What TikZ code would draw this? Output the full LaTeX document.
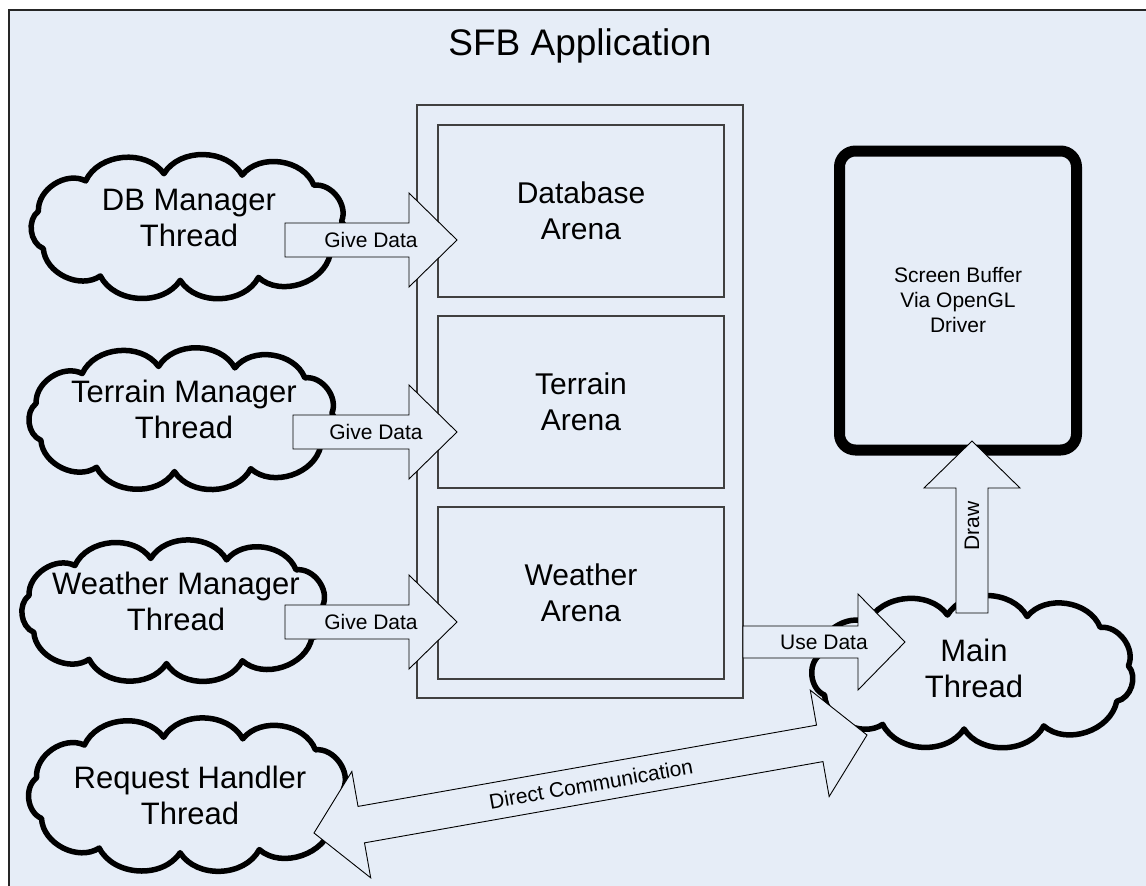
\documentclass[tikz,border=0pt]{standalone}
\usepackage{fontspec}
\setmainfont{Liberation Sans}
\usetikzlibrary{calc}
\definecolor{bg}{RGB}{230,237,247}
\tikzset{
 cloudline/.style={draw=black, line width=5.5pt, fill=bg, line join=round},
 bigtext/.style={font=\fontsize{31}{36}\selectfont, align=center, inner sep=0pt},
 arenatext/.style={font=\fontsize{30}{36}\selectfont, align=center},
 titletext/.style={font=\fontsize{37}{42}\selectfont, inner sep=0pt},
 smalltext/.style={font=\fontsize{21}{25}\selectfont, align=center, inner sep=0pt},
 arenabox/.style={draw=black!75, line width=1.3pt, fill=bg, inner sep=0pt},
 barrow/.style={draw=black, line width=0.9pt, fill=bg, line join=miter},
 screenbox/.style={draw=black, line width=11pt, rounded corners=16pt, fill=bg, inner sep=0pt},
}
\newcommand{\sarrow}[6]{%
 \coordinate (#6h) at ($(#2)!#5!(#1)$);
 \draw[barrow] ($(#1)!#3!90:(#2)$) -- ($(#6h)!#3!-90:(#1)$) -- ($(#6h)!#4!-90:(#1)$) -- (#2) -- ($(#6h)!#4!90:(#1)$) -- ($(#6h)!#3!90:(#1)$) -- ($(#1)!#3!-90:(#2)$) -- cycle;
}
\newcommand{\darrow}[6]{%
 \coordinate (#6a) at ($(#1)!#5!(#2)$);
 \coordinate (#6b) at ($(#2)!#5!(#1)$);
 \draw[barrow] (#1) -- ($(#6a)!#4!90:(#2)$) -- ($(#6a)!#3!90:(#2)$) -- ($(#6b)!#3!-90:(#1)$) -- ($(#6b)!#4!-90:(#1)$) -- (#2) -- ($(#6b)!#4!90:(#1)$) -- ($(#6b)!#3!90:(#1)$) -- ($(#6a)!#3!-90:(#2)$) -- ($(#6a)!#4!-90:(#2)$) -- cycle;
}
\newcommand{\cloudshape}[5]{%
 \coordinate (#1) at (#2,#3);
 \draw[cloudline] ({#2+#4*0.93},{#3-#5*0.08})
  foreach \px/\py in {0.76/-0.58,0.32/-0.72,-0.16/-0.74,-0.64/-0.64,-0.93/-0.22,-0.90/0.30,-0.55/0.68,-0.06/0.74,0.42/0.70,0.86/0.38,0.93/-0.08}
  { to[bend right=60] ({#2+#4*(\px)},{#3+#5*(\py)}) } -- cycle;
}
\begin{document}
\begin{tikzpicture}[x=1pt,y=-1pt]
\useasboundingbox (0,0) rectangle (1146,886);
\fill[white] (0,0) rectangle (1146,886);
\fill[bg] (9,10) rectangle (1146,886);
\draw[black!85, line width=1.5pt] (9,886) -- (9,10) -- (1146,10);
\node[titletext] (title) at (580,46) {SFB Application};
% arenas
\node[arenabox, minimum width=326pt, minimum height=593pt] (arena) at (580,401.5) {};
\node[arenabox, minimum width=286pt, minimum height=172pt, arenatext] (dba) at (581,211) {Database\\Arena};
\node[arenabox, minimum width=286pt, minimum height=172pt, arenatext] (tra) at (581,402) {Terrain\\Arena};
\node[arenabox, minimum width=286pt, minimum height=172pt, arenatext] (wea) at (581,593) {Weather\\Arena};
% screen buffer
\node[screenbox, minimum width=237pt, minimum height=299pt] (sb) at (958,300.5) {};
\node[smalltext] (sbt) at (958,300) {Screen Buffer\\Via OpenGL\\Driver};
% clouds
\cloudshape{dbc}{190}{227}{163}{72}
\node[bigtext] (dbt) at (189,218) {DB Manager\\Thread};
\cloudshape{trc}{184}{419}{159}{71}
\node[bigtext] (trt) at (184,409) {Terrain Manager\\Thread};
\cloudshape{wec}{176}{611}{158}{71}
\node[bigtext] (wet) at (176,601) {Weather Manager\\Thread};
\cloudshape{rqc}{190}{795}{165}{78}
\node[bigtext] (rqt) at (190,795) {Request Handler\\Thread};
\cloudshape{mnc}{974}{672}{166}{77}
\node[bigtext] (mnt) at (974,668) {Main\\Thread};
% arrows
\coordinate (g1s) at (285,240); \coordinate (g1t) at (457,240);
\coordinate (g2s) at (293,432); \coordinate (g2t) at (457,432);
\coordinate (g3s) at (285,622); \coordinate (g3t) at (457,622);
\coordinate (uds) at (743,642); \coordinate (udt) at (905,642);
\coordinate (drs) at (972,613); \coordinate (drt) at (972,441);
\coordinate (dca) at (314,833); \coordinate (dcb) at (867,735);
\sarrow{g1s}{g1t}{17pt}{47pt}{48pt}{g1}
\sarrow{g2s}{g2t}{17pt}{47pt}{48pt}{g2}
\sarrow{g3s}{g3t}{17pt}{47pt}{48pt}{g3}
\sarrow{uds}{udt}{16pt}{48pt}{47pt}{ud}
\sarrow{drs}{drt}{16pt}{48pt}{47pt}{dr}
\darrow{dca}{dcb}{18.5pt}{54pt}{48pt}{dcx}
\node[smalltext] (g1l) at (371,240) {Give Data};
\node[smalltext] (g2l) at (376,432) {Give Data};
\node[smalltext] (g3l) at (371,622) {Give Data};
\node[smalltext] (udl) at (824,642) {Use Data};
\node[smalltext, rotate=90] (drl) at (972,526) {Draw};
\node[smalltext, rotate=10.05] (dcl) at (591,784) {Direct Communication};
\end{tikzpicture}
\end{document}
